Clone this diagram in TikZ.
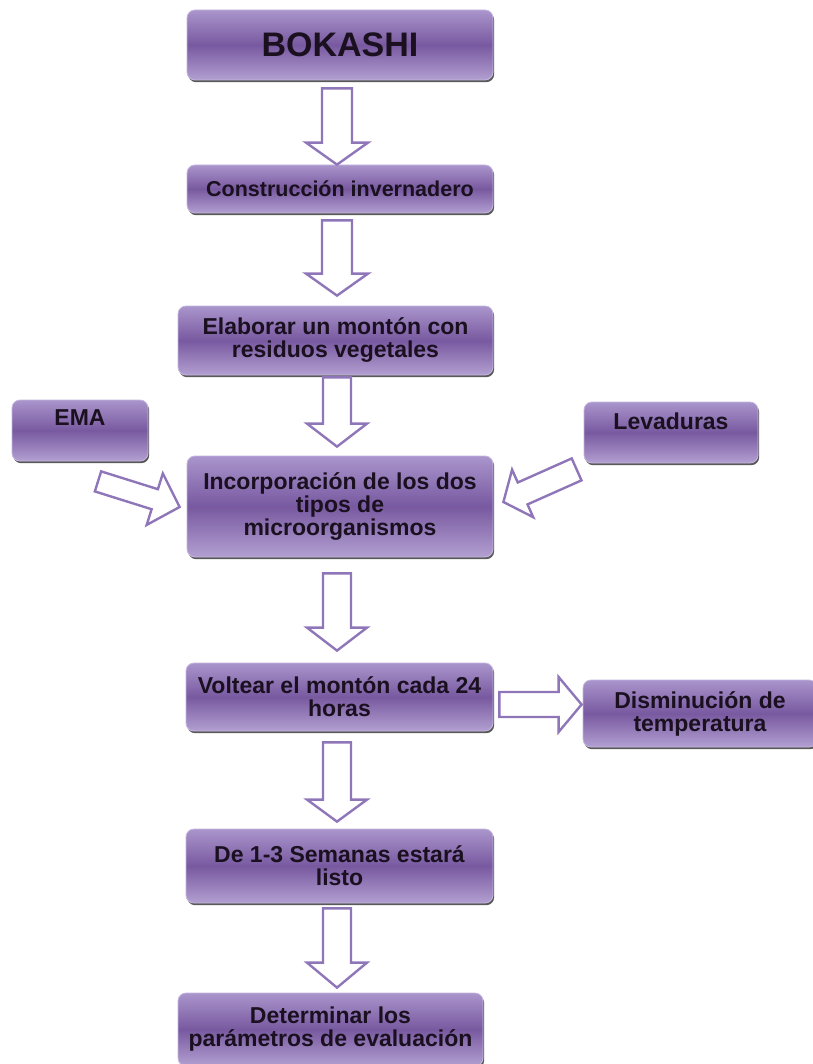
\documentclass[tikz,border=0pt]{standalone}
\usepackage{fontspec}
\setmainfont{Liberation Sans}
\usetikzlibrary{calc,shadows}
\definecolor{boxlight}{HTML}{AA95CC}
\definecolor{boxdark}{HTML}{7859A0}
\definecolor{boxedge}{HTML}{C4B6DE}
\definecolor{arrowcol}{HTML}{8F76B9}
\definecolor{txt}{HTML}{1A1020}
\tikzset{
  box/.style={rounded corners=8pt, draw=boxedge, line width=0.8pt,
    top color=boxlight, bottom color=boxlight!90!white, middle color=boxdark,
    drop shadow={shadow xshift=1.2pt, shadow yshift=-2.2pt, opacity=0.65, fill=black},
    text=txt, align=center, inner sep=0pt, font=\bfseries\fontsize{23}{23}\selectfont},
  blk/.style={draw=arrowcol, fill=white, line width=2.4pt, line join=miter}
}
\newcommand\blockarrow[5]{%
 \draw[blk] let \p1=(#1), \p2=(#2), \n1={atan2(\y2-\y1,\x2-\x1)}, \n2={veclen(\x2-\x1,\y2-\y1)} in
 ($(\p1)+({\n1+90}:#3)$) -- ($(\p1)+(\n1:{\n2-#5})+({\n1+90}:#3)$) -- ($(\p1)+(\n1:{\n2-#5})+({\n1+90}:#4)$) -- (\p2) -- ($(\p1)+(\n1:{\n2-#5})+({\n1-90}:#4)$) -- ($(\p1)+(\n1:{\n2-#5})+({\n1-90}:#3)$) -- ($(\p1)+({\n1-90}:#3)$) -- cycle;}
\begin{document}
\begin{tikzpicture}[x=1pt,y=1pt]
\useasboundingbox (0,0) rectangle (812,-1064);
% boxes
\node[box, minimum width=306, minimum height=70, font=\bfseries\fontsize{34}{34}\selectfont] (bok) at (340,-45) {BOKASHI};
\node[box, minimum width=306, minimum height=48, font=\bfseries\fontsize{21.5}{21.5}\selectfont] (cons) at (340,-189) {Construcción invernadero};
\node[box, minimum width=315, minimum height=69] (elab) at (335.5,-340.5) {Elaborar un montón con\\residuos vegetales};
\node[box, minimum width=136, minimum height=61, text height=16pt, text depth=27pt] (ema) at (80,-430.5) {EMA};
\node[box, minimum width=174, minimum height=61, text height=16pt, text depth=23pt] (lev) at (671,-432.5) {Levaduras};
\node[box, minimum width=306, minimum height=101] (inc) at (340,-506.5) {Incorporación de los dos\\tipos de\\microorganismos};
\node[box, minimum width=307, minimum height=68] (volt) at (339.5,-697) {Voltear el montón cada 24\\horas};
\node[box, minimum width=234, minimum height=67] (dism) at (700,-713.5) {Disminución de\\temperatura};
\node[box, minimum width=307, minimum height=74] (sem) at (339.5,-866) {De 1-3 Semanas estará\\listo};
\node[box, minimum width=305, minimum height=73] (det) at (330.5,-1029.5) {Determinar los\\parámetros de evaluación};
% vertical arrows
\blockarrow{$(bok.south)+(-3,-8)$}{$(bok.south |- cons.north)+(-3,0)$}{15}{31}{22}
\blockarrow{$(cons.south)+(-3,-7)$}{$(cons.south |- elab.north)+(-3,10)$}{15}{31}{22}
\blockarrow{$(elab.south)+(1.5,-2)$}{$(elab.south |- inc.north)+(1.5,9)$}{14}{30}{23}
\blockarrow{$(inc.south)+(-3,-16)$}{$(inc.south |- volt.north)+(-3,12)$}{14}{30}{23}
\blockarrow{$(volt.south)+(-2.5,-11)$}{$(volt.south |- sem.north)+(-2.5,7)$}{14}{30}{22}
\blockarrow{$(sem.south)+(-2.5,-5)$}{$(sem.south |- det.north)+(-2.5,5)$}{14}{30}{25}
% side arrows
\blockarrow{$(volt.east)+(6,-7.5)$}{$(volt.east -| dism.west)+(-1,-7.5)$}{12.5}{27.5}{23}
\blockarrow{$(ema.south)+(18,-20)$}{$(inc.west)+(-7,-0.5)$}{10.5}{27}{26}
\blockarrow{$(lev.south west)+(-7,-6)$}{$(inc.east)+(10,4.5)$}{12}{26}{21}
\end{tikzpicture}
\end{document}
